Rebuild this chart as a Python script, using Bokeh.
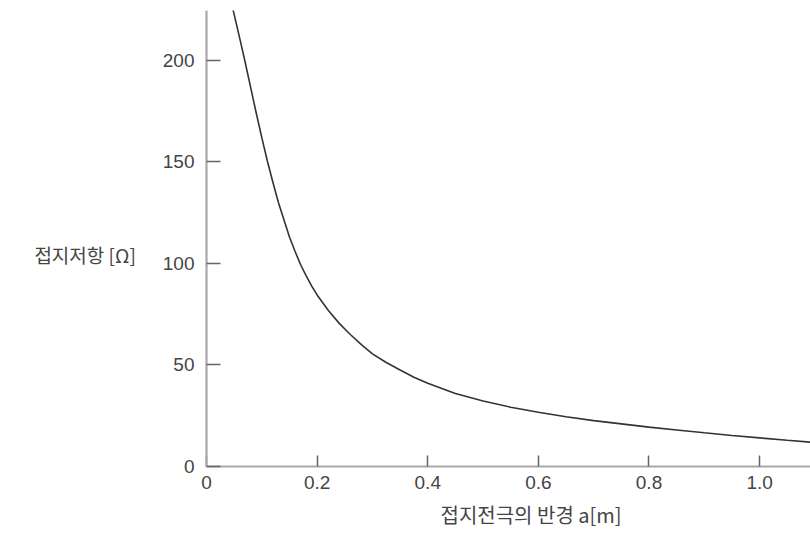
from bokeh.plotting import figure
from bokeh.models import FixedTicker, Title
from bokeh.embed import file_html
from bokeh.resources import INLINE

# radius a [m]
radius = [0.048, 0.06, 0.07, 0.08, 0.09, 0.10, 0.11, 0.12, 0.13, 0.14, 0.15, 0.16,
          0.17, 0.18, 0.19, 0.20, 0.22, 0.24, 0.26, 0.28, 0.30, 0.325, 0.35, 0.375,
          0.40, 0.45, 0.50, 0.55, 0.60, 0.65, 0.70, 0.75, 0.80, 0.85, 0.90, 0.95,
          1.00, 1.05, 1.10]
# grounding resistance [ohm]
resistance = [225, 211, 199, 186.5, 174, 162, 150.5, 140, 130, 121.5, 113, 106,
              99.5, 94, 89, 84.5, 77, 70.5, 65, 60, 55.5, 51.2, 47.5, 44,
              41, 36, 32.3, 29.2, 26.7, 24.5, 22.6, 21, 19.4, 18, 16.6, 15.3,
              14.1, 12.9, 11.8]

x_ticks = [0, 0.2, 0.4, 0.6, 0.8, 1.0]
x_tick_labels = ["0", "0.2", "0.4", "0.6", "0.8", "1.0"]
y_ticks = [0, 50, 100, 150, 200]

x_title = "접지전극의 반경 a[m]"
y_title = "접지저항 [Ω]"

p = figure(width=810, height=535, output_backend="svg", toolbar_location=None,
           x_range=(0, 1.092), y_range=(0, 224.6),
           min_border_left=206, min_border_right=0, min_border_top=10, min_border_bottom=69)
p.outline_line_color = None
p.xgrid.grid_line_color = None
p.ygrid.grid_line_color = None
p.background_fill_color = "white"
p.border_fill_color = "white"

p.line(radius, resistance, line_color="#333333", line_width=1.6)

tick_font = "Liberation Sans"
for ax in (p.xaxis, p.yaxis):
    ax.axis_line_color = "#a8a8a8"
    ax.axis_line_width = 2.2
    ax.major_tick_line_color = "#666666"
    ax.major_tick_line_width = 1.5
    ax.minor_tick_line_color = None
    ax.major_tick_out = 0
    ax.major_label_text_font = tick_font
    ax.major_label_text_font_size = "19px"
    ax.major_label_text_color = "#444444"

p.xaxis.ticker = FixedTicker(ticks=x_ticks)
p.xaxis.major_label_overrides = {t: l for t, l in zip(x_ticks, x_tick_labels)}
p.xaxis.major_tick_in = 11
p.xaxis.major_label_standoff = 9

p.yaxis.ticker = FixedTicker(ticks=y_ticks)
p.yaxis.major_tick_in = 14
p.yaxis.major_label_standoff = 12

# y-axis title, horizontal, sitting level with the "100" label
p.yaxis.axis_label = "\n" + y_title
p.yaxis.axis_label_orientation = "horizontal"
p.yaxis.axis_label_standoff = 24
p.yaxis.axis_label_text_font = "Noto Sans CJK KR"
p.yaxis.axis_label_text_font_size = "19px"
p.yaxis.axis_label_text_font_style = "normal"
p.yaxis.axis_label_text_color = "#444444"
p.yaxis.axis_label_text_line_height = 1.2

p.add_layout(Title(text=x_title, align="left", offset=234, standoff=13,
                   text_font="Noto Sans CJK KR", text_font_size="20px",
                   text_font_style="normal", text_color="#444444"), "below")

open("out.html", "w").write(file_html(p, INLINE))
